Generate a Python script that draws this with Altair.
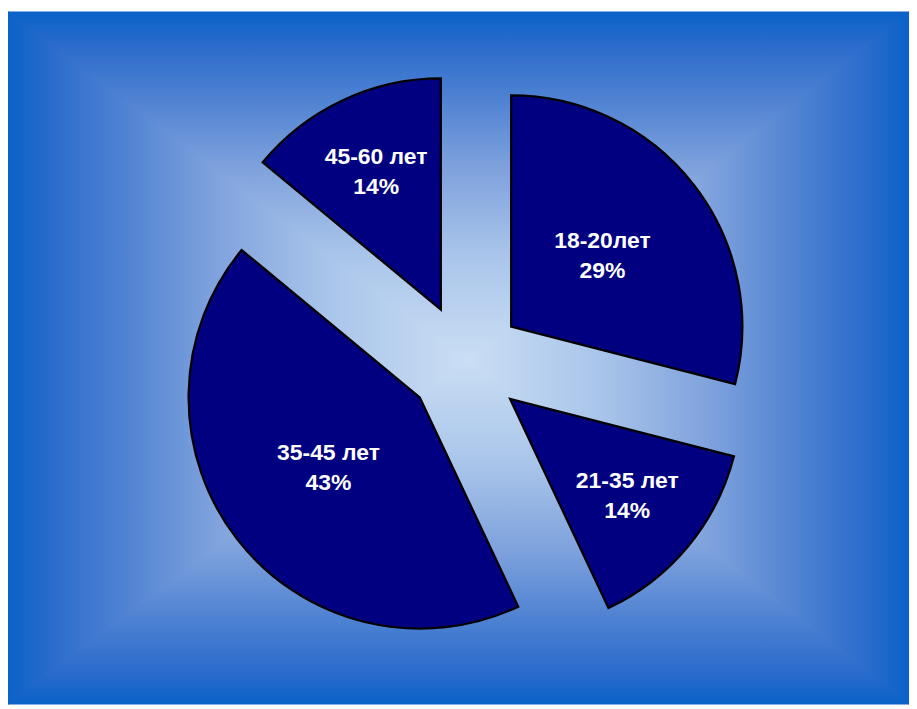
import altair as alt
import pandas as pd

# ---- data ----
categories = ["18-20лет", "21-35 лет", "35-45 лет", "45-60 лет"]
shares = [29, 14, 43, 14]

# ---- layout constants (pixels inside the plot area) ----
W, H = 904, 694
CX, CY = 459, 351        # centre of the (unexploded) pie
R = 232                  # pie radius
EXPLODE = 58             # explode distance of every slice
GX, GY = 460, 349        # centre of the background gradient
LABEL_HALF_W = 65        # half width of a label box (used for best-fit placement)
LINE_H = 30

stops = [
    alt.GradientStop(offset=0.0, color="#0a62c8"),
    alt.GradientStop(offset=0.1, color="#2c6ccc"),
    alt.GradientStop(offset=0.25, color="#4f82d2"),
    alt.GradientStop(offset=0.45, color="#7fa2dd"),
    alt.GradientStop(offset=0.7, color="#a9c5ea"),
    alt.GradientStop(offset=1.0, color="#cadef4"),
]


def grad(x1, y1, x2, y2):
    return alt.Gradient(gradient="linear", stops=stops, x1=x1, y1=y1, x2=x2, y2=y2)


def px(name):
    return alt.X(name, type="quantitative", scale=None, axis=None)


def py(name):
    return alt.Y(name, type="quantitative", scale=None, axis=None)


def tri(df, g, horizontal=False):
    kw = dict(fill=g, stroke=g, strokeWidth=1.5)
    if horizontal:
        return alt.Chart(df).mark_area(orient="horizontal", **kw).encode(
            y=py("y"), x=px("x"), x2="x2"
        )
    return alt.Chart(df).mark_area(**kw).encode(x=px("x"), y=py("y"), y2="y2")


# ---- background: rectangular gradient from four triangles ----
left = tri(pd.DataFrame({"x": [0, GX], "y": [0, GY], "y2": [H, GY]}), grad(0, 0, 1, 0))
right = tri(pd.DataFrame({"x": [GX, W], "y": [GY, 0], "y2": [GY, H]}), grad(1, 0, 0, 0))
top = tri(pd.DataFrame({"y": [0, GY], "x": [0, GX], "x2": [W, GX]}), grad(0, 0, 0, 1), True)
bottom = tri(pd.DataFrame({"y": [GY, H], "x": [GX, 0], "x2": [GX, W]}), grad(0, 1, 0, 0), True)

# ---- pie ----
pie_df = pd.DataFrame({"cat": categories, "share": shares, "order": list(range(len(shares)))})

pie = (
    alt.Chart(pie_df)
    .transform_joinaggregate(total="sum(share)")
    .transform_window(cum="sum(share)", sort=[alt.SortField("order")], frame=[None, 0])
    .transform_calculate(
        a1="2*PI*datum.cum/datum.total",
        a0="2*PI*(datum.cum-datum.share)/datum.total",
    )
    .transform_calculate(mid="(datum.a0+datum.a1)/2", span="datum.a1-datum.a0")
    .transform_calculate(
        ax=f"{CX}+{EXPLODE}*sin(datum.mid)",
        ay=f"{CY}-{EXPLODE}*cos(datum.mid)",
        ld=f"max({R}*0.5, {LABEL_HALF_W}/sin(datum.span/2))",
        pct="format(datum.share/datum.total, '.0%')",
    )
    .transform_calculate(
        lx="datum.ax+datum.ld*sin(datum.mid)",
        ly="datum.ay-datum.ld*cos(datum.mid)",
        label="datum.cat + '\\n' + datum.pct",
    )
)

arcs = pie.mark_arc(radius=R, fill="#000080", stroke="#000000", strokeWidth=2.2).encode(
    x=px("ax"),
    y=py("ay"),
    theta=alt.Theta("a0:Q", scale=None, stack=None),
    theta2="a1:Q",
)

labels = pie.mark_text(
    font="Liberation Sans",
    fontWeight="bold",
    fontSize=23,
    color="white",
    lineBreak="\n",
    lineHeight=LINE_H,
    align="center",
    baseline="middle",
    dy=-LINE_H / 2,
).encode(x=px("lx"), y=py("ly"), text="label:N")

chart = (
    alt.layer(left, right, top, bottom, arcs, labels)
    .properties(
        width=W,
        height=H,
        autosize=alt.AutoSizeParams(type="none"),
        padding={"left": 0, "top": 3, "right": 0, "bottom": 0},
        background="white",
    )
    .configure_view(stroke=None)
)

chart.save("out.html", embed_options={"renderer": "svg", "actions": False})
